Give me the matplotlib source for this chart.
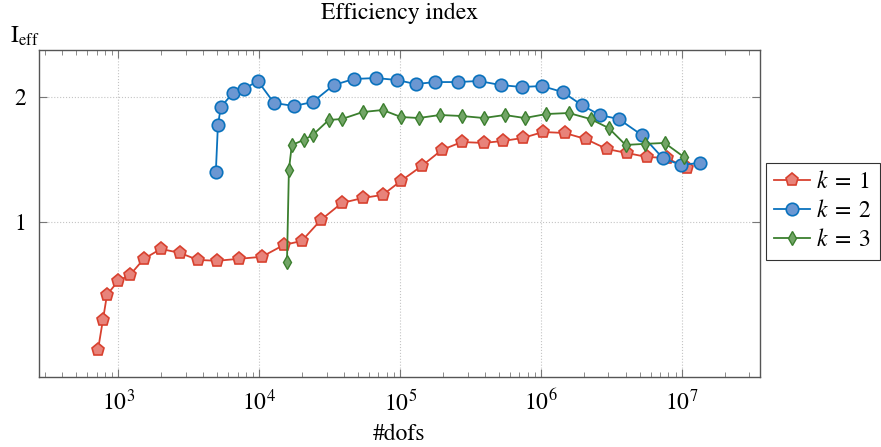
import matplotlib
matplotlib.use("Agg")
import matplotlib.pyplot as plt
from matplotlib.ticker import NullLocator, FixedLocator, FixedFormatter, LogLocator

plt.rcParams['font.family'] = ['STIXGeneral', 'DejaVu Serif']
plt.rcParams['mathtext.fontset'] = 'stix'

# k = 1
dofs_k1 = [716, 776, 829, 995, 1207, 1516, 2000, 2730, 3660, 5000, 7160, 10400,
           14900, 20000, 27300, 38500, 54200, 75100, 100900, 142000, 197000,
           273000, 391000, 533000, 739000, 1.03e6, 1.47e6, 2.07e6, 2.92e6,
           4.05e6, 5.61e6, 7.77e6, 1.08e7]
eff_k1 = [0.492, 0.581, 0.667, 0.721, 0.745, 0.815, 0.861, 0.842, 0.810, 0.806,
          0.815, 0.824, 0.880, 0.900, 1.011, 1.111, 1.142, 1.162, 1.255, 1.364,
          1.491, 1.558, 1.550, 1.567, 1.593, 1.647, 1.638, 1.584, 1.499, 1.466,
          1.434, 1.426, 1.349]

# k = 2
dofs_k2 = [4910, 5080, 5330, 6490, 7760, 9750, 12700, 17600, 23900, 33700,
           46700, 67000, 94400, 129000, 176000, 256000, 361000, 517000, 728000,
           1.01e6, 1.42e6, 1.94e6, 2.60e6, 3.55e6, 5.17e6, 7.28e6, 9.76e6, 1.33e7]
eff_k2 = [1.320, 1.712, 1.892, 2.045, 2.091, 2.186, 1.935, 1.903, 1.945, 2.137,
          2.210, 2.222, 2.198, 2.149, 2.173, 2.173, 2.186, 2.137, 2.114, 2.126,
          2.056, 1.913, 1.810, 1.770, 1.620, 1.426, 1.372, 1.387]

# k = 3
dofs_k3 = [15700, 16200, 17000, 20700, 23900, 31100, 38500, 54200, 75100,
           101000, 135000, 191000, 273000, 391000, 551000, 764000, 1.09e6,
           1.57e6, 2.24e6, 3.01e6, 3.97e6, 5.42e6, 7.51e6, 1.03e7]
eff_k3 = [0.801, 1.334, 1.533, 1.576, 1.620, 1.761, 1.770, 1.840, 1.861, 1.790,
          1.780, 1.810, 1.800, 1.780, 1.810, 1.780, 1.820, 1.830, 1.770, 1.684,
          1.533, 1.542, 1.550, 1.434]

fs = 17

fig = plt.figure(figsize=(8.81, 4.47), dpi=100)
ax = fig.add_axes([39/881, 1-377/447, 721/881, 327/447])

ax.plot(dofs_k1, eff_k1, '-p', color='#d8412f', mfc='#e8837a', mec='#d8412f',
        ms=9.5, lw=1.3, mew=1.2, label=r'$k\;=\;1$', zorder=3)
ax.plot(dofs_k2, eff_k2, '-o', color='#0a72bd', mfc='#6b97d2', mec='#0a72bd',
        ms=9, lw=1.3, mew=1.2, label=r'$k\;=\;2$', zorder=3)
ax.plot(dofs_k3, eff_k3, '-d', color='#3b7f2e', mfc='#72a566', mec='#3b7f2e',
        ms=7, lw=1.3, mew=1.0, label=r'$k\;=\;3$', zorder=3)

ax.set_xscale('log')
ax.set_yscale('log', base=2)
ax.set_xlim(273, 3.57e7)
ax.set_ylim(0.423, 2.596)

ax.xaxis.set_major_locator(LogLocator(base=10, numticks=12))
ax.xaxis.set_minor_locator(LogLocator(base=10, subs=range(2, 10), numticks=12))
ax.yaxis.set_major_locator(FixedLocator([1, 2]))
ax.yaxis.set_major_formatter(FixedFormatter(['1', '2']))
ax.yaxis.set_minor_locator(NullLocator())

ax.tick_params(which='both', direction='in', top=True, right=True,
               color='#777777', labelsize=fs)
ax.tick_params(which='major', length=6, width=0.8)
ax.tick_params(which='minor', length=3.5, width=0.6)
ax.tick_params(axis='x', pad=9)
ax.tick_params(axis='y', pad=9)

for s in ax.spines.values():
    s.set_color('#555555')
    s.set_linewidth(1.0)

ax.grid(True, which='major', linestyle=':', color='#c4c4c4', linewidth=0.8)

ax.set_title('Efficiency index', fontsize=fs, pad=22)
ax.set_xlabel('#dofs', fontsize=fs, labelpad=6)
fig.text(10/881, 1-36/447, r'I$_{\mathrm{eff}}$', fontsize=fs, va='center', ha='left')

leg = ax.legend(loc='upper right', bbox_to_anchor=(880/881, 1-163/447),
                bbox_transform=fig.transFigure, borderaxespad=0, fontsize=fs,
                frameon=True, fancybox=False, edgecolor='black',
                handlelength=1.5, borderpad=0.35, labelspacing=0.3, numpoints=1,
                handletextpad=0.25)
leg.get_frame().set_linewidth(0.8)

fig.savefig('out.png', dpi=100)
